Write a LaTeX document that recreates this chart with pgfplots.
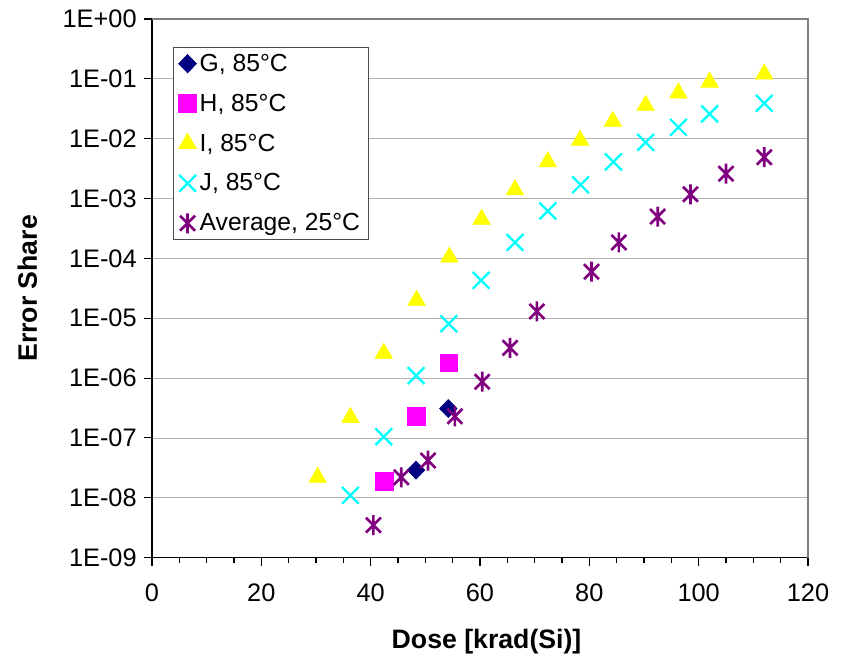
\documentclass[border=0pt]{standalone}
\usepackage{fontspec}
\setmainfont{Liberation Sans}
\usepackage{pgfplots}
\pgfplotsset{compat=1.18}
\definecolor{gnavy}{RGB}{0,0,128}
\definecolor{hmag}{RGB}{255,0,255}
\definecolor{iyel}{RGB}{255,255,0}
\definecolor{jcyan}{RGB}{0,255,255}
\definecolor{avgpurp}{RGB}{128,0,128}
% Excel-style star: vertical bar plus an X
\pgfdeclareplotmark{xstar}{%
  \pgfsetlinewidth{2pt}%
  \pgfpathmoveto{\pgfqpoint{0pt}{\pgfplotmarksize}}%
  \pgfpathlineto{\pgfqpoint{0pt}{-\pgfplotmarksize}}%
  \pgfpathmoveto{\pgfqpoint{-.75\pgfplotmarksize}{.75\pgfplotmarksize}}%
  \pgfpathlineto{\pgfqpoint{.75\pgfplotmarksize}{-.75\pgfplotmarksize}}%
  \pgfpathmoveto{\pgfqpoint{-.75\pgfplotmarksize}{-.75\pgfplotmarksize}}%
  \pgfpathlineto{\pgfqpoint{.75\pgfplotmarksize}{.75\pgfplotmarksize}}%
  \pgfusepathqstroke}
% big X made of two diagonals
\pgfdeclareplotmark{bigx}{%
  \pgfsetlinewidth{1.7pt}%
  \pgfpathmoveto{\pgfqpoint{-\pgfplotmarksize}{-\pgfplotmarksize}}%
  \pgfpathlineto{\pgfqpoint{\pgfplotmarksize}{\pgfplotmarksize}}%
  \pgfpathmoveto{\pgfqpoint{-\pgfplotmarksize}{\pgfplotmarksize}}%
  \pgfpathlineto{\pgfqpoint{\pgfplotmarksize}{-\pgfplotmarksize}}%
  \pgfusepathqstroke}
\begin{document}
\begin{tikzpicture}
\begin{axis}[
  scale only axis,
  width=492pt, height=404pt,
  ymode=log,
  xmin=0, xmax=120, ymin=1e-9, ymax=1,
  xtick={0,20,...,120},
  minor x tick num=3,
  ytick={1e-9,1e-8,1e-7,1e-6,1e-5,1e-4,1e-3,1e-2,1e-1,1},
  yticklabels={1E-09,1E-08,1E-07,1E-06,1E-05,1E-04,1E-03,1E-02,1E-01,1E+00},
  yminorticks=false,
  tick align=outside,
  major tick length=6pt, minor tick length=4pt,
  tick style={black, line width=0.8pt},
  axis line style={line width=0.8pt},
  ymajorgrids, grid style={gray!60, line width=0.6pt},
  axis x line*=bottom, axis y line*=left,
  /pgf/number format/assume math mode=true,
  tick label style={font=\fontsize{19}{22}\selectfont},
  xticklabel style={yshift=-10pt},
  yticklabel style={xshift=-2pt},
  xlabel={Dose [krad(Si)]},
  ylabel={Error Share},
  every axis x label/.style={at={(axis description cs:0.51,-0.156)}, anchor=center,
    font=\fontsize{20}{24}\selectfont\bfseries},
  every axis y label/.style={at={(axis description cs:-0.19,0.5)}, anchor=center, rotate=90,
    font=\fontsize{20}{24}\selectfont\bfseries},
  legend style={at={(axis description cs:0.032,0.948)}, anchor=north west,
    draw=black!70, line width=0.6pt, font=\fontsize{18.5}{22}\selectfont,
    row sep=11.5pt, inner xsep=4pt, inner ysep=3pt,
    nodes={inner xsep=2.5pt}},
  legend cell align=left,
  legend image code/.code={\draw[#1] plot coordinates {(0.3cm,0cm)};},
  clip=false,
]
\addplot[only marks, mark=diamond*, mark size=6.8pt, color=gnavy, mark options={xscale=1.3}]
  coordinates {(48.3,2.9e-8)(54.2,3.1e-7)};
\addlegendentry{G, 85°C}
\addplot[only marks, mark=square*, mark size=6.6pt, color=hmag]
  coordinates {(42.5,1.9e-8)(48.3,2.3e-7)(54.3,1.8e-6)};
\addlegendentry{H, 85°C}
\addplot[only marks, mark=triangle*, mark size=7.6pt, color=iyel]
  coordinates {
  (30.3,2.2e-8)(36.3,2.2e-7)(42.4,2.6e-6)(48.4,2.0e-5)(54.4,1.05e-4)
  (60.3,4.5e-4)(66.4,1.4e-3)(72.4,4.1e-3)(78.3,9.4e-3)(84.3,1.95e-2)
  (90.3,3.6e-2)(96.3,5.8e-2)(102.0,8.8e-2)(112.0,0.12)};
\addlegendentry{I, 85°C}
\addplot[only marks, mark=bigx, mark size=6.3pt, color=jcyan]
  coordinates {
  (36.3,1.1e-8)(42.4,1.05e-7)(48.3,1.1e-6)(54.3,8.1e-6)(60.2,4.3e-5)
  (66.4,1.85e-4)(72.4,6.2e-4)(78.4,1.7e-3)(84.4,4.1e-3)(90.3,8.7e-3)
  (96.3,1.55e-2)(102.0,2.6e-2)(112.0,3.9e-2)};
\addlegendentry{J, 85°C}
\addplot[only marks, mark=xstar, mark size=7.5pt, color=avgpurp]
  coordinates {
  (40.5,3.5e-9)(45.6,2.2e-8)(50.5,4.2e-8)(55.4,2.3e-7)(60.4,8.7e-7)
  (65.5,3.2e-6)(70.4,1.3e-5)(80.4,6.0e-5)(85.4,1.85e-4)(92.5,5.0e-4)
  (98.5,1.18e-3)(105.0,2.6e-3)(112.0,4.9e-3)};
\addlegendentry{Average, 25°C}
\draw[gray, line width=0.8pt] (rel axis cs:0,1) -- (rel axis cs:1,1) -- (rel axis cs:1,0);
\end{axis}
\pgfresetboundingbox
\path (-114pt,-73.5pt) rectangle (520.5pt,418.25pt);
\end{tikzpicture}
\end{document}
